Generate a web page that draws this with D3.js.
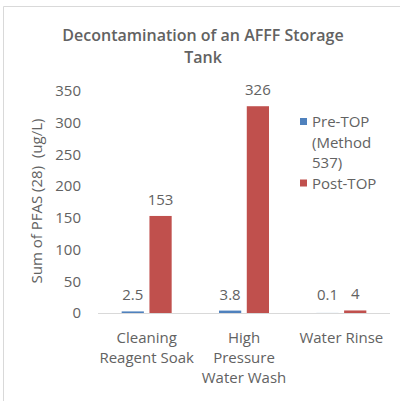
<!DOCTYPE html>
<html>
<head>
<meta charset="utf-8">
<script src="https://cdn.jsdelivr.net/npm/d3@7"></script>
<style>
  body { margin: 0; background: #fff; }
  text { font-family: "Open Sans", sans-serif; fill: #626262; }
</style>
</head>
<body>
<svg id="chart"></svg>
<script>
const width = 400;
const height = 401;

// data
const categories = [['Cleaning', 'Reagent Soak'], ['High', 'Pressure', 'Water Wash'], ['Water Rinse']];
const series = ['Pre-TOP (Method 537)', 'Post-TOP'];
const preTop = [2.5, 3.8, 0.1];
const postTop = [153, 326, 4];
const yTicks = [0, 50, 100, 150, 200, 250, 300, 350];
const colors = ['#4f81bd', '#c0504d'];

const svg = d3.select('#chart').attr('width', width).attr('height', height);

// frame
svg.append('path')
  .attr('d', `M3.5,${height} V6.5 H${width}`)
  .attr('fill', 'none')
  .attr('stroke', '#d9d9d9');

// title
svg.append('text').attr('x', 203).attr('y', 41).attr('text-anchor', 'middle')
  .style('font-weight', '600').style('font-size', '16px')
  .text('Decontamination of an AFFF Storage');
svg.append('text').attr('x', 203).attr('y', 63).attr('text-anchor', 'middle')
  .style('font-weight', '600').style('font-size', '16px')
  .text('Tank');

const y = d3.scaleLinear().domain([0, 350]).range([313, 91]);
const x0 = d3.scaleBand().domain(d3.range(categories.length)).range([98, 390]);
const x1 = d3.scaleBand().domain(d3.range(series.length)).range([0, 50]).paddingInner(0.2);
const inset = (x0.bandwidth() - 50) / 2;

// y axis labels
const yAxis = svg.append('g').attr('transform', 'translate(81,0)')
  .call(d3.axisLeft(y).tickValues(yTicks).tickSize(0).tickPadding(0));
yAxis.select('.domain').remove();
yAxis.selectAll('text').style('font-size', '15px').style('fill', '#626262').style('font-family', '"Open Sans", sans-serif');

svg.append('text')
  .attr('transform', 'translate(42,201) rotate(-90)')
  .attr('text-anchor', 'middle')
  .style('font-size', '15px')
  .style('white-space', 'pre')
  .text('Sum of PFAS (28)  (ug/L)');

// bars
const rows = categories.map((c, i) => ({ i, vals: [preTop[i], postTop[i]] }));
const groups = svg.selectAll('.grp').data(rows).enter().append('g')
  .attr('transform', d => `translate(${x0(d.i) + inset},0)`);

groups.selectAll('rect').data(d => d.vals.map((v, s) => ({ v, s }))).enter().append('rect')
  .attr('x', d => x1(d.s))
  .attr('width', x1.bandwidth())
  .attr('y', d => y(d.v))
  .attr('height', d => y(0) - y(d.v))
  .attr('fill', d => colors[d.s]);

groups.selectAll('.lbl').data(d => d.vals.map((v, s) => ({ v, s }))).enter().append('text')
  .attr('x', d => x1(d.s) + x1.bandwidth() / 2)
  .attr('y', d => Math.min(y(d.v), y(0) - 2) - 11)
  .attr('text-anchor', 'middle')
  .style('font-size', '15px')
  .text(d => d.v);

// baseline
svg.append('line').attr('x1', 98).attr('x2', 390).attr('y1', 313.5).attr('y2', 313.5)
  .attr('stroke', '#d9d9d9');

// category labels
categories.forEach((lines, i) => {
  const t = svg.append('text').attr('text-anchor', 'middle').style('font-size', '15px');
  lines.forEach((l, k) => {
    t.append('tspan').attr('x', x0(i) + x0.bandwidth() / 2).attr('y', 343 + k * 20).text(l);
  });
});

// legend
const legLines = [['Pre-TOP', '(Method', '537)'], ['Post-TOP']];
let ly = 122;
legLines.forEach((lines, s) => {
  svg.append('rect').attr('x', 300).attr('y', ly - 4).attr('width', 7).attr('height', 7).attr('fill', colors[s]);
  lines.forEach(l => {
    svg.append('text').attr('x', 312).attr('y', ly + 5).style('font-size', '15px').text(l);
    ly += 20.5;
  });
});
</script>
</body>
</html>
